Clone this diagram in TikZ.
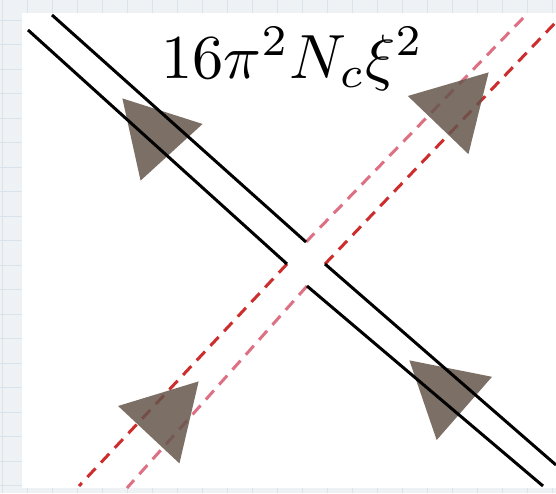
\documentclass[tikz,border=0pt]{standalone}
\usepackage{amsmath}
\usepackage{tikz}
\usetikzlibrary{shapes.geometric}
\definecolor{redline}{RGB}{205,45,45}
\definecolor{pinkline}{RGB}{222,112,132}
\definecolor{headbrown}{RGB}{102,86,76}
\definecolor{paperbg}{RGB}{238,242,245}
\definecolor{papergrid}{RGB}{216,227,236}
\tikzset{
solidline/.style={
line width=3pt,
black
},
dashline/.style={
line width=3pt,
dash pattern=on 12pt off 8pt
},
headtri/.style={
isosceles triangle,
isosceles triangle stretches,
fill=headbrown,
fill opacity=0.85,
inner sep=0pt,
minimum width=84pt,
minimum height=73pt,
anchor=apex
}
}
\begin{document}
\begin{tikzpicture}[x=1pt,y=-1pt]
\useasboundingbox (0,0) rectangle (556,493);
% paper
\fill[paperbg] (0,0) rectangle (556,493);
\foreach \x in {2,27,...,552}
\draw[papergrid] (\x,0) -- (\x,493);
\foreach \y in {20,44.5,...,490}
\draw[papergrid] (0,\y) -- (556,\y);
\fill[white] (22,13) rectangle (556,488);

% corners of the vertex
\coordinate (top) at (306,242);
\coordinate (lft) at (287,264);
\coordinate (rgt) at (325,264);
\coordinate (bot) at (307,286);
% free ends
\coordinate (a) at (52,15);
\coordinate (b) at (28,30);
\coordinate (c) at (526,15);
\coordinate (d) at (556,22);
\coordinate (e) at (556,465);
\coordinate (f) at (543,486);
\coordinate (g) at (79,486);
\coordinate (h) at (127,488);

\node[anchor=base west,inner sep=0pt,scale=6.25](lbl) at (160,78){$16\pi^2N_c\xi^2$};

\foreach \x/\y in {lft/g,rgt/d}
\draw[dashline,redline](\x)--(\y);
\foreach \x/\y in {top/c,bot/h}
\draw[dashline,pinkline](\x)--(\y);

\node[headtri,rotate=132.4](t1) at (122,98){};
\node[headtri,rotate=46.2](t2) at (489,72){};
\node[headtri,rotate=46.9](t3) at (199,381){};
\node[headtri,rotate=138.8](t4) at (409,360){};

\foreach \x/\y in {a/top,b/lft,rgt/e,bot/f}
\draw[solidline](\x)--(\y);
\end{tikzpicture}
\end{document}
